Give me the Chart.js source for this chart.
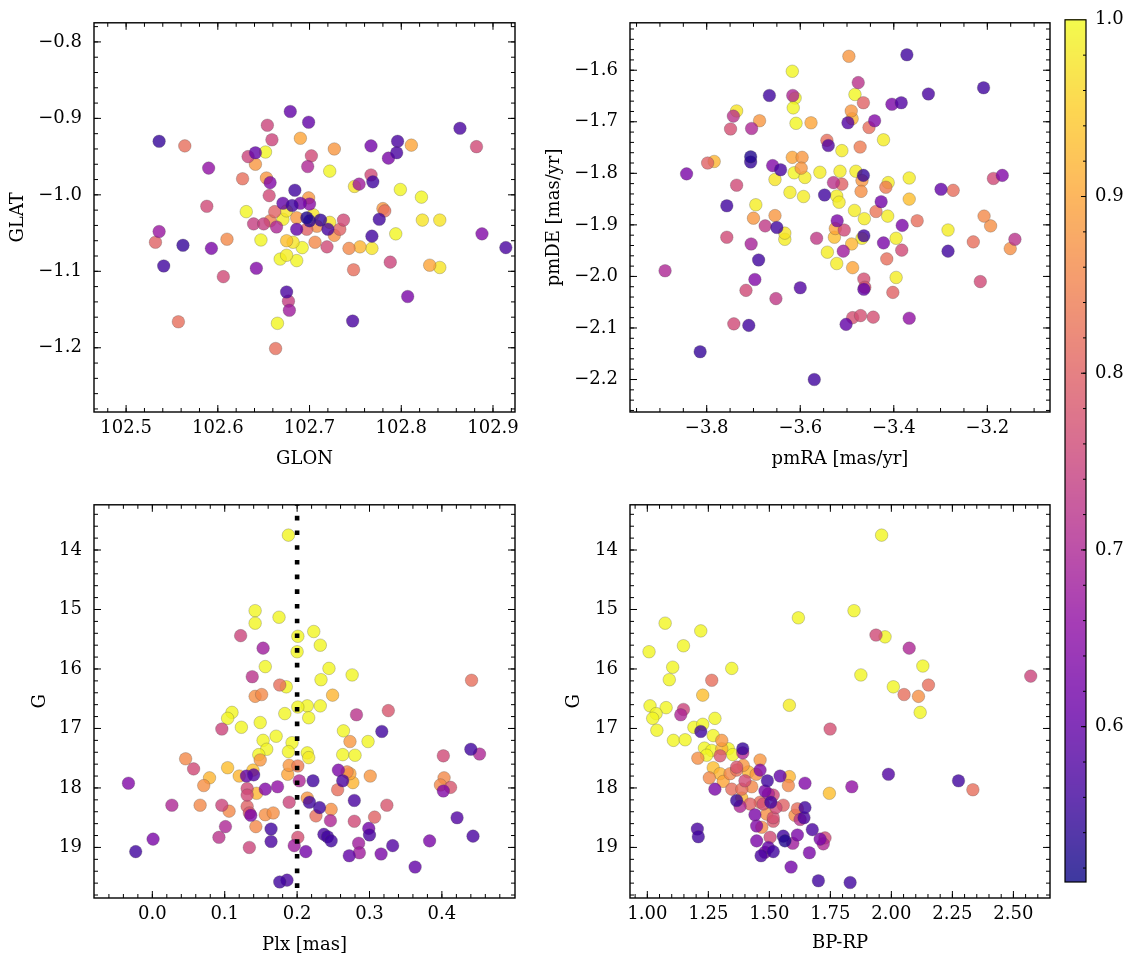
<!DOCTYPE html>
<html><head><meta charset="utf-8">
<script src="https://cdn.jsdelivr.net/npm/chart.js@4.4.1/dist/chart.umd.min.js"></script>
<style>
html,body{margin:0;padding:0;background:#fff;}
#wrap{position:relative;width:1133px;height:965px;overflow:hidden;background:#fff;}
canvas{position:absolute;}
</style></head><body>
<div id="wrap">
<canvas id="c1" width="530" height="480" style="left:0;top:0"></canvas>
<canvas id="c2" width="525" height="480" style="left:540px;top:0"></canvas>
<canvas id="c3" width="530" height="483" style="left:0;top:482px"></canvas>
<canvas id="c4" width="525" height="483" style="left:540px;top:482px"></canvas>
<canvas id="c5" width="73" height="965" style="left:1060px;top:0"></canvas>
</div>
<script>
// ---------------- DATA ----------------
// Panel 1: GLON / GLAT
const glon = [
102.679,102.654,102.536,102.564,102.690,102.659,102.641,102.633,102.652,102.641,
102.590,102.627,102.653,102.657,102.656,102.684,102.588,102.631,102.671,102.681,
102.662,102.675,102.690,102.671,102.686,102.639,102.650,102.664,102.686,102.657,
102.536,102.532,102.562,102.593,102.610,102.647,102.675,102.682,102.692,102.541,
102.642,102.606,102.668,102.675,102.686,102.675,102.677,102.678,102.557,102.665,
102.663,
102.699,102.727,102.702,102.698,102.722,102.767,102.796,102.795,102.786,102.811,
102.864,102.882,102.767,102.769,102.754,102.749,102.799,102.822,102.780,102.782,
102.776,102.823,102.842,102.794,102.768,102.888,102.914,102.743,102.755,102.768,
102.788,102.831,102.842,102.748,102.807,102.747,102.699,102.700,102.697,102.700,
102.712,102.720,102.722,102.737,102.733,102.727,102.706,102.719,102.704,102.708,
102.697];
const glat = [
-0.891,-0.909,-0.930,-0.936,-0.926,-0.928,-0.945,-0.950,-0.944,-0.960,
-0.965,-0.979,-0.978,-0.984,-1.001,-0.994,-1.015,-1.022,-1.011,-1.014,
-1.022,-1.021,-1.011,-1.032,-1.030,-1.038,-1.038,-1.042,-1.045,-1.034,
-1.048,-1.062,-1.066,-1.070,-1.058,-1.059,-1.060,-1.062,-1.069,-1.093,
-1.096,-1.107,-1.084,-1.079,-1.086,-1.127,-1.139,-1.151,-1.166,-1.168,
-1.201,
-0.905,-0.940,-0.949,-0.963,-0.969,-0.936,-0.930,-0.945,-0.952,-0.935,
-0.913,-0.937,-0.974,-0.983,-0.986,-0.989,-0.993,-1.003,-1.018,-1.021,
-1.032,-1.033,-1.033,-1.051,-1.054,-1.051,-1.069,-1.070,-1.068,-1.070,
-1.088,-1.092,-1.095,-1.098,-1.133,-1.165,-1.004,-1.012,-1.030,-1.034,
-1.033,-1.045,-1.036,-1.033,-1.045,-1.053,-1.062,-1.068,-1.026,-1.041,
-1.045];
const probPos = [
.60,.75,.55,.82,.90,.75,.60,.75,.995,.88,
.66,.82,.88,.64,.76,.56,.76,.995,.60,.56,
.80,.975,.62,.985,.88,.74,.74,.70,.60,.85,
.67,.80,.55,.63,.86,.995,.93,.975,.995,.56,
.64,.76,.995,.985,.995,.57,.74,.68,.82,.995,
.82,
.60,.88,.76,.70,.995,.62,.57,.57,.63,.90,
.57,.76,.76,.56,.68,.975,.995,.995,.88,.82,
.56,.975,.975,.995,.56,.64,.57,.86,.92,.975,
.75,.90,.975,.82,.63,.57,.88,.65,.53,.54,
.55,.57,.975,.76,.80,.87,.86,.76,.975,.87,
.80];

// Panel 2: pmRA / pmDE
const pmra = [
-3.617,-3.666,-3.616,-3.611,-3.615,-3.736,-3.743,-3.687,-3.609,-3.577,
-3.749,-3.704,-3.706,-3.706,-3.798,-3.784,-3.843,-3.736,-3.659,-3.642,
-3.617,-3.596,-3.598,-3.613,-3.590,-3.654,-3.622,-3.593,-3.558,-3.757,
-3.695,-3.700,-3.654,-3.675,-3.650,-3.548,
-3.496,-3.372,-3.208,-3.326,-3.476,-3.483,-3.465,-3.404,-3.384,-3.491,
-3.489,-3.498,-3.441,-3.453,-3.422,-3.543,-3.540,-3.511,-3.472,-3.515,
-3.481,-3.465,-3.468,-3.529,-3.511,-3.412,-3.417,-3.367,-3.470,-3.522,
-3.517,-3.427,-3.367,-3.299,-3.273,-3.187,-3.168,-3.484,-3.463,-3.438,
-3.413,-3.350,-3.382,-3.521,-3.506,-3.207,-3.193,-3.284,
-3.633,-3.633,-3.757,-3.705,-3.689,-3.889,-3.697,-3.716,-3.652,-3.600,
-3.742,-3.710,-3.814,-3.570,-3.565,-3.527,-3.542,-3.522,-3.508,-3.490,
-3.488,-3.468,-3.464,-3.422,-3.395,-3.383,-3.415,-3.395,-3.464,-3.464,
-3.462,-3.402,-3.488,-3.471,-3.444,-3.502,-3.367,-3.284,-3.230,-3.151,
-3.141,-3.215,-3.525];
const pmde = [
-1.602,-1.649,-1.649,-1.654,-1.673,-1.679,-1.689,-1.698,-1.703,-1.702,
-1.714,-1.713,-1.768,-1.778,-1.780,-1.777,-1.801,-1.823,-1.785,-1.793,
-1.769,-1.769,-1.790,-1.799,-1.808,-1.812,-1.837,-1.845,-1.798,-1.863,
-1.861,-1.887,-1.882,-1.902,-1.905,-1.842,
-1.573,-1.570,-1.634,-1.646,-1.624,-1.647,-1.663,-1.666,-1.663,-1.679,
-1.694,-1.702,-1.698,-1.711,-1.735,-1.736,-1.746,-1.756,-1.749,-1.796,
-1.796,-1.804,-1.814,-1.818,-1.821,-1.818,-1.827,-1.809,-1.835,-1.844,
-1.856,-1.855,-1.850,-1.831,-1.833,-1.810,-1.804,-1.872,-1.888,-1.874,
-1.883,-1.892,-1.901,-1.892,-1.910,-1.883,-1.902,-1.910,
-1.916,-1.928,-1.924,-1.937,-1.968,-1.989,-2.006,-2.027,-2.043,-2.022,
-2.092,-2.095,-2.146,-2.200,-1.926,-1.924,-1.953,-1.975,-1.951,-1.937,
-1.983,-1.926,-1.921,-1.935,-1.926,-1.949,-1.966,-2.002,-2.005,-2.025,
-2.021,-2.031,-2.080,-2.076,-2.079,-2.093,-2.081,-1.951,-1.933,-1.946,
-1.928,-2.010,-1.907];
const probPm = [
.995,.56,.70,.995,.995,.975,.72,.88,.995,.90,
.77,.70,.53,.55,.80,.92,.63,.76,.64,.57,
.90,.88,.88,.995,.985,.975,.985,.985,.985,.56,
.985,.88,.88,.73,.56,.56,
.88,.56,.56,.57,.72,.995,.80,.63,.58,.88,
.92,.58,.64,.82,.985,.82,.58,.985,.84,.985,
.985,.55,.88,.72,.80,.985,.84,.985,.87,.985,
.985,.62,.93,.60,.82,.76,.64,.985,.985,.83,
.985,.82,.63,.63,.76,.86,.87,.985,
.975,.985,.76,.69,.56,.70,.64,.76,.73,.58,
.76,.56,.55,.56,.73,.93,.985,.985,.68,.92,
.90,.985,.56,.63,.985,.76,.82,.985,.77,.60,
.77,.80,.77,.77,.77,.60,.66,.56,.82,.87,
.72,.76,.90];

// Panel 3: Plx / G
const plx = [
0.188,0.142,0.142,0.175,0.122,0.153,0.201,0.200,0.156,0.138,
0.176,0.185,0.142,0.151,0.214,0.201,0.183,0.110,0.104,0.149,
0.223,0.232,0.244,0.233,0.276,0.249,0.232,0.216,0.441,0.282,0.326,
0.096,0.123,0.264,0.317,0.171,0.153,0.193,0.273,0.298,0.158,
0.188,0.214,0.216,0.263,0.280,0.147,0.149,0.046,0.402,0.440,
0.452,0.057,0.104,0.139,0.120,0.079,0.071,-0.033,0.130,0.140,
0.189,0.201,0.187,0.203,0.222,0.257,0.269,0.263,0.273,0.277,
0.301,0.256,0.403,0.398,0.412,0.402,0.131,0.144,0.156,0.173,
0.131,0.027,0.066,0.096,0.106,0.131,0.134,0.136,0.156,0.167,
0.189,0.214,0.217,0.231,0.226,0.247,0.246,0.279,0.279,0.307,
0.324,0.421,0.101,0.143,0.164,0.092,0.134,0.164,0.201,0.196,
0.212,0.237,0.242,0.247,0.285,0.299,0.300,0.272,0.286,0.316,
0.332,0.363,0.383,0.443,0.001,-0.023,0.176,0.186];
const gPlx = [
13.75,15.02,15.23,15.13,15.44,15.65,15.45,15.71,15.96,16.13,
16.27,16.30,16.46,16.43,16.62,16.64,16.75,16.73,16.83,16.90,
15.37,15.60,15.99,16.18,16.10,16.44,16.62,16.82,16.19,16.77,16.70,
17.01,16.98,17.04,17.05,17.13,17.20,17.24,17.22,17.22,17.35,
17.39,17.41,17.49,17.44,17.45,17.44,17.53,17.51,17.46,17.35,
17.43,17.68,17.66,17.70,17.80,17.83,17.96,17.92,17.80,17.78,
17.62,17.63,17.77,17.88,17.88,17.70,17.73,17.88,17.76,17.91,
17.80,18.03,17.83,17.95,17.99,18.05,18.01,18.09,18.02,17.98,
18.12,18.29,18.29,18.29,18.39,18.31,18.42,18.46,18.45,18.42,
18.24,18.17,18.24,18.33,18.47,18.36,18.55,18.21,18.56,18.49,
18.29,18.50,18.65,18.65,18.69,18.83,19.00,18.90,18.83,18.97,
19.07,18.78,18.82,18.89,18.93,18.68,18.79,19.14,19.09,19.11,
18.97,19.33,18.89,18.81,18.86,19.07,19.58,19.55];
const probPlx = [
.995,.995,.995,.995,.75,.68,.995,.995,.995,.72,
.82,.995,.87,.86,.995,.995,.995,.995,.995,.995,
.995,.995,.995,.995,.995,.92,.995,.995,.82,.72,.78,
.75,.995,.995,.56,.995,.995,.995,.88,.995,.995,
.995,.995,.985,.995,.995,.995,.88,.86,.76,.56,
.70,.76,.93,.93,.92,.92,.87,.64,.60,.58,
.88,.84,.90,.70,.56,.63,.86,.57,.90,.92,
.88,.82,.86,.86,.78,.64,.76,.92,.64,.66,
.76,.70,.86,.75,.86,.80,.78,.63,.87,.87,
.75,.88,.56,.56,.82,.87,.70,.57,.76,.80,
.78,.58,.70,.86,.56,.72,.75,.57,.77,.68,
.62,.57,.56,.56,.68,.62,.57,.60,.68,.63,
.58,.60,.63,.57,.63,.56,.56,.57];
const plxCut = 0.2;

// Panel 4: BP-RP / G
const bprp = [
1.073,1.219,1.007,1.148,1.104,1.090,1.346,1.264,1.227,1.619,
1.582,1.011,1.077,1.036,1.022,1.148,1.137,1.039,1.277,1.191,
1.227,1.219,1.270,1.107,1.155,1.305,
1.749,1.234,1.264,1.207,1.243,1.305,1.298,1.332,1.350,1.391,
1.391,1.270,1.298,1.254,1.311,1.339,1.366,1.393,1.414,1.366,
1.462,1.462,1.446,1.400,1.346,1.387,1.428,1.277,1.492,1.544,
1.582,1.578,1.646,1.482,1.496,1.746,1.838,1.988,1.366,1.380,
1.387,1.421,1.462,1.506,1.516,1.475,1.527,1.557,1.441,1.489,
1.516,1.516,1.469,1.448,1.615,1.646,1.642,1.605,1.626,1.676,
1.205,1.209,1.448,1.503,1.557,1.564,1.596,1.615,1.708,1.728,
1.721,1.496,1.516,1.466,1.482,1.664,1.589,1.701,1.831,
1.960,1.847,1.974,1.937,2.073,2.129,1.875,2.008,2.052,2.111,
2.152,2.118,2.571,2.275,2.334];
const gCmd = [
15.23,15.36,15.71,15.61,15.97,16.18,15.99,16.19,16.44,15.14,
16.61,16.62,16.65,16.75,16.83,16.68,16.77,17.03,16.83,16.98,
16.93,17.05,17.12,17.20,17.19,17.20,
17.01,17.33,17.37,17.50,17.45,17.34,17.46,17.34,17.44,17.34,
17.41,17.66,17.76,17.83,17.89,17.76,17.70,17.62,17.73,17.65,
17.53,17.70,17.77,17.88,18.02,18.02,17.98,18.02,17.88,17.80,
17.81,17.96,17.92,18.05,18.10,18.09,17.98,17.77,18.21,18.31,
18.17,18.27,18.24,18.24,18.12,18.27,18.33,18.29,18.45,18.44,
18.50,18.56,18.66,18.64,18.35,18.33,18.50,18.46,18.53,18.70,
18.69,18.82,18.89,18.83,18.81,18.89,18.93,18.79,18.86,18.84,
18.94,19.00,19.07,19.14,19.08,19.09,19.33,19.56,19.59,
13.75,15.02,15.46,15.43,15.65,15.95,16.10,16.30,16.43,16.46,
16.27,16.73,16.12,17.88,18.03];
const probCmd = [
.995,.995,.995,.995,.995,.995,.995,.82,.93,.995,
.985,.995,.995,.995,.995,.75,.70,.995,.995,.995,
.995,.56,.995,.995,.995,.88,
.77,.995,.995,.87,.995,.92,.78,.995,.995,.55,
.70,.93,.92,.86,.90,.86,.82,.88,.92,.78,
.88,.64,.88,.76,.82,.82,.86,.63,.56,.60,
.92,.86,.64,.63,.70,.93,.66,.58,.55,.70,
.92,.80,.82,.56,.76,.77,.76,.80,.63,.87,
.77,.78,.86,.64,.82,.56,.57,.87,.72,.57,
.57,.56,.63,.76,.56,.53,.68,.63,.63,.76,
.70,.60,.56,.57,.62,.63,.62,.56,.56,
.995,.995,.995,.76,.70,.995,.995,.995,.82,.87,
.82,.995,.75,.56,.82];

// Tick labels
const posXTicks = [102.5,102.6,102.7,102.8,102.9];
const posYTicks = [-0.8,-0.9,-1.0,-1.1,-1.2];
const pmXTicks = [-3.8,-3.6,-3.4,-3.2];
const pmYTicks = [-1.6,-1.7,-1.8,-1.9,-2.0,-2.1,-2.2];
const plxXTicks = [0.0,0.1,0.2,0.3,0.4];
const gTicks = [14,15,16,17,18,19];
const cmdXTicks = [1.00,1.25,1.50,1.75,2.00,2.25,2.50];
const cbTicks = [0.6,0.7,0.8,0.9,1.0];

// ---------------- STYLE / HELPERS ----------------
const VMIN = 0.5121, VMAX = 1.0;
const PLASMA = [[13,8,135],[65,4,157],[106,0,168],[143,13,164],[177,42,144],[204,71,120],[225,100,98],[242,132,75],[252,166,54],[252,206,37],[240,249,33]];
function plasma(v, a){
  let t = (v - VMIN) / (VMAX - VMIN);
  t = Math.max(0, Math.min(1, t));
  const s = t * 10, i = Math.min(9, Math.floor(s)), f = s - i;
  const c0 = PLASMA[i], c1 = PLASMA[i+1];
  const r = Math.round(c0[0] + (c1[0]-c0[0])*f), g = Math.round(c0[1] + (c1[1]-c0[1])*f), b = Math.round(c0[2] + (c1[2]-c0[2])*f);
  return `rgba(${r},${g},${b},${a})`;
}
const fmt = (v, d) => Number(v).toFixed(d).replace('-', '\u2212');
function minors(min, max, step){
  const out = [];
  for (let k = Math.ceil(min/step - 1e-9); k*step <= max + 1e-9; k++) out.push(k*step);
  return out;
}
Chart.defaults.font.family = '"DejaVu Serif", serif';
Chart.defaults.font.size = 18;
Chart.defaults.color = '#000';

const axFrame = {
  id: 'axframe',
  afterDatasetsDraw(chart, args, o){
    const {ctx, chartArea: a} = chart;
    const xs = chart.scales.x, ys = chart.scales.y;
    ctx.save();
    ctx.strokeStyle = '#000';
    ctx.lineWidth = 1;
    const dx = (vals, len) => { ctx.beginPath(); for (const v of vals){ const p = xs.getPixelForValue(v); if (p < a.left+1 || p > a.right-1) continue; ctx.moveTo(p, a.bottom); ctx.lineTo(p, a.bottom-len); ctx.moveTo(p, a.top); ctx.lineTo(p, a.top+len);} ctx.stroke(); };
    const dy = (vals, len) => { ctx.beginPath(); for (const v of vals){ const p = ys.getPixelForValue(v); if (p < a.top+1 || p > a.bottom-1) continue; ctx.moveTo(a.left, p); ctx.lineTo(a.left+len, p); ctx.moveTo(a.right, p); ctx.lineTo(a.right-len, p);} ctx.stroke(); };
    dx(minors(xs.min, xs.max, o.xMinor), 4);
    dy(minors(ys.min, ys.max, o.yMinor), 4);
    dx(o.xMajor, 7);
    dy(o.yMajor, 7);
    ctx.lineWidth = 1.4;
    ctx.strokeRect(a.left, a.top, a.right-a.left, a.bottom-a.top);
    ctx.restore();
  }
};

function scatterSet(xv, yv, pv){
  const idx = xv.map((_, i) => i).sort((i, j) => pv[j] - pv[i]);
  return {
    type: 'scatter',
    data: idx.map(i => ({x: xv[i], y: yv[i]})),
    backgroundColor: idx.map(i => plasma(pv[i], 0.8)),
    borderColor: 'rgba(70,70,70,0.45)',
    borderWidth: 0.6,
    pointRadius: 6.3,
    order: 1
  };
}

function makeChart(id, c){
  return new Chart(document.getElementById(id), {
    type: 'scatter',
    data: {datasets: c.datasets},
    options: {
      responsive: false, animation: false, devicePixelRatio: 1, events: [],
      layout: {padding: {left: 0, right: c.padR, top: c.padT, bottom: 0}},
      plugins: {legend: {display: false}, tooltip: {enabled: false},
        axframe: {xMajor: c.xTicks, yMajor: c.yTicks, xMinor: c.xMinor, yMinor: c.yMinor}},
      scales: {
        x: {type: 'linear', position: 'bottom', min: c.xMin, max: c.xMax,
          grid: {display: false, drawTicks: false}, border: {display: false},
          ticks: {padding: 6, maxRotation: 0, autoSkip: false, callback: v => fmt(v, c.xDec)},
          afterBuildTicks: s => { s.ticks = c.xTicks.map(v => ({value: v})); },
          afterFit: s => { s.height = c.xH; },
          title: {display: true, text: c.xTitle, padding: {top: 0, bottom: c.xTitlePad}}},
        y: {type: 'linear', position: 'left', min: c.yMin, max: c.yMax, reverse: !!c.yRev,
          grid: {display: false, drawTicks: false}, border: {display: false},
          ticks: {padding: 12, autoSkip: false, callback: v => fmt(v, c.yDec)},
          afterBuildTicks: s => { s.ticks = c.yTicks.map(v => ({value: v})); },
          afterFit: s => { s.width = c.yW; },
          title: {display: true, text: c.yTitle, padding: {top: c.yTitlePad, bottom: 0}}}
      }
    },
    plugins: [axFrame]
  });
}

makeChart('c1', {
  datasets: [scatterSet(glon, glat, probPos)],
  padR: 15, padT: 15, yW: 94, xH: 68,
  xMin: 102.465, xMax: 102.924, yMin: -1.284, yMax: -0.775,
  xTicks: posXTicks, yTicks: posYTicks, xMinor: 0.02, yMinor: 0.02, xDec: 1, yDec: 1,
  xTitle: 'GLON', yTitle: 'GLAT', xTitlePad: 10, yTitlePad: 8
});
makeChart('c2', {
  datasets: [scatterSet(pmra, pmde, probPm)],
  padR: 15, padT: 15, yW: 90, xH: 68,
  xMin: -3.964, xMax: -3.066, yMin: -2.263, yMax: -1.508,
  xTicks: pmXTicks, yTicks: pmYTicks, xMinor: 0.05, yMinor: 0.02, xDec: 1, yDec: 1,
  xTitle: 'pmRA [mas/yr]', yTitle: 'pmDE [mas/yr]', xTitlePad: 10, yTitlePad: 4
});
const gMin = 13.24, gMax = 19.85;
makeChart('c3', {
  datasets: [
    {type: 'line', data: [{x: plxCut, y: gMin}, {x: plxCut, y: gMax}], borderColor: '#000', borderWidth: 4.6,
     borderDash: [4.6, 10.1], borderDashOffset: 3.7, borderCapStyle: 'butt', pointRadius: 0, fill: false, order: 0},
    scatterSet(plx, gPlx, probPlx)
  ],
  padR: 15, padT: 17, yW: 94, xH: 67,
  xMin: -0.0806, xMax: 0.501, yMin: gMin, yMax: gMax, yRev: true,
  xTicks: plxXTicks, yTicks: gTicks, xMinor: 0.02, yMinor: 0.2, xDec: 1, yDec: 0,
  xTitle: 'Plx [mas]', yTitle: 'G', xTitlePad: 9, yTitlePad: 30
});
makeChart('c4', {
  datasets: [scatterSet(bprp, gCmd, probCmd)],
  padR: 15, padT: 17, yW: 90, xH: 67,
  xMin: 0.929, xMax: 2.650, yMin: gMin, yMax: gMax, yRev: true,
  xTicks: cmdXTicks, yTicks: gTicks, xMinor: 0.05, yMinor: 0.2, xDec: 2, yDec: 0,
  xTitle: 'BP-RP', yTitle: 'G', xTitlePad: 11, yTitlePad: 24
});

// Colorbar
const cbar = {
  id: 'cbar',
  beforeDatasetsDraw(chart){
    const {ctx, chartArea: a} = chart;
    const ys = chart.scales.y;
    ctx.save();
    for (let py = Math.floor(a.top); py < a.bottom; py++){
      ctx.fillStyle = plasma(ys.getValueForPixel(py + 0.5), 0.8);
      ctx.fillRect(a.left, py, a.right - a.left, 1);
    }
    ctx.strokeStyle = '#000';
    ctx.lineWidth = 1;
    ctx.beginPath();
    for (const v of minors(ys.min, ys.max, 0.02)){ const p = ys.getPixelForValue(v); if (p < a.top+1 || p > a.bottom-1) continue; ctx.moveTo(a.right, p); ctx.lineTo(a.right-3, p); }
    for (const v of cbTicks){ const p = ys.getPixelForValue(v); if (p < a.top+1 || p > a.bottom-1) continue; ctx.moveTo(a.right, p); ctx.lineTo(a.right-5, p); }
    ctx.stroke();
    ctx.lineWidth = 1.2;
    ctx.strokeRect(a.left, a.top, a.right-a.left, a.bottom-a.top);
    ctx.restore();
  }
};
new Chart(document.getElementById('c5'), {
  type: 'scatter',
  data: {datasets: []},
  options: {
    responsive: false, animation: false, devicePixelRatio: 1, events: [],
    layout: {padding: {left: 5, right: 0, top: 12, bottom: 83}},
    plugins: {legend: {display: false}, tooltip: {enabled: false}},
    scales: {
      x: {display: false, min: 0, max: 1},
      y: {position: 'right', min: VMIN, max: VMAX,
        grid: {display: false, drawTicks: false}, border: {display: false},
        ticks: {padding: 9, autoSkip: false, callback: v => Number(v).toFixed(1)},
        afterBuildTicks: s => { s.ticks = cbTicks.map(v => ({value: v})); },
        afterFit: s => { s.width = 47; }}
    }
  },
  plugins: [cbar]
});
</script>
</body></html>
